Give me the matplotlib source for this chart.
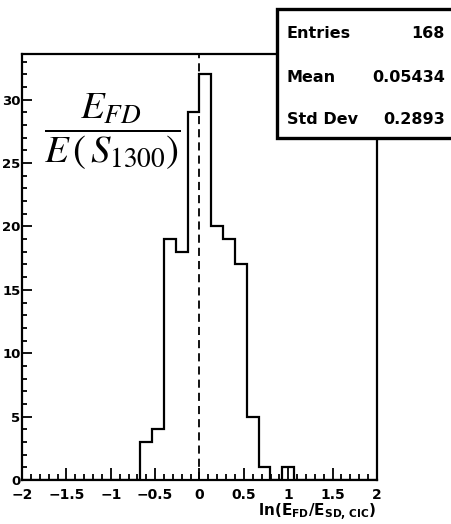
import numpy as np
import matplotlib
matplotlib.use("Agg")
import matplotlib.pyplot as plt
from matplotlib.patches import Rectangle
from matplotlib.ticker import MultipleLocator

plt.rcParams['font.family'] = ['DejaVu Sans']
plt.rcParams['mathtext.fontset'] = 'dejavusans'

# Histogram: 30 bins over [-2, 2]
bin_lo, bin_hi, n_bins = -2.0, 2.0, 30
counts = [0, 0, 0, 0, 0, 0, 0, 0, 0, 0,
          3, 4, 19, 18, 29, 32, 20, 19, 17, 5,
          1, 0, 1, 0, 0, 0, 0, 0, 0, 0]
stat_names = ["Entries", "Mean", "Std Dev"]
stat_values = ["168", "0.05434", "0.2893"]
x_ticks = [-2, -1.5, -1, -0.5, 0, 0.5, 1, 1.5, 2]
x_tick_labels = ["\u22122", "\u22121.5", "\u22121", "\u22120.5", "0", "0.5", "1", "1.5", "2"]
y_ticks = [0, 5, 10, 15, 20, 25, 30]

edges = np.linspace(bin_lo, bin_hi, n_bins + 1)

W, H = 452, 524
fig = plt.figure(figsize=(W / 100, H / 100), dpi=100)
ax = fig.add_axes([22 / W, 1 - 480 / H, (377 - 22) / W, (480 - 54) / H])

ax.stairs(counts, edges, color='black', linewidth=1.6, baseline=0)
ax.axvline(0, color='black', linestyle=(0, (4.5, 2.8)), linewidth=1.3)

ax.set_xlim(bin_lo, bin_hi)
ax.set_ylim(0, 1.05 * max(counts))

ax.set_xticks(x_ticks)
ax.set_xticklabels(x_tick_labels)
ax.set_yticks(y_ticks)
ax.xaxis.set_minor_locator(MultipleLocator(0.1))
ax.yaxis.set_minor_locator(MultipleLocator(1))
ax.tick_params(which='both', direction='in', width=1.3,
               top=False, right=False)
ax.tick_params(axis='x', which='major', length=9, pad=6, labelsize=10)
ax.tick_params(axis='x', which='minor', length=4.5)
ax.tick_params(axis='y', which='major', length=7.5, pad=1, labelsize=9.5)
ax.tick_params(axis='y', which='minor', length=3.8)
for lab in ax.get_xticklabels() + ax.get_yticklabels():
    lab.set_fontweight('bold')
for sp in ax.spines.values():
    sp.set_linewidth(1.6)

ax.text(1.0, -0.052, r"$\mathbf{ln(E_{FD}/E_{SD,\,CIC})}$", transform=ax.transAxes,
        ha='right', va='top', fontsize=11)

# Energy ratio formula
ax.text(0.254, 0.818, r"$\dfrac{E_{FD}}{E\,\left(\,S_{1300}\right)}$",
        transform=ax.transAxes, ha='center', va='center', fontsize=28,
        fontweight='normal', math_fontfamily='stix')

# Statistics box
x0, y0 = 277 / W, 1 - 138 / H
box = Rectangle((x0, y0), 1.05 - x0, (138 - 9) / H, transform=fig.transFigure,
                facecolor='white', edgecolor='black', linewidth=2.4, zorder=5,
                clip_on=False)
fig.patches.append(box)
rows_y = [33, 77, 120]
for name, val, yy in zip(stat_names, stat_values, rows_y):
    fig.text(287 / W, 1 - yy / H, name, ha='left', va='center', fontsize=11.5,
             fontweight='bold', zorder=6)
    fig.text(445 / W, 1 - yy / H, val, ha='right', va='center', fontsize=11.5,
             fontweight='bold', zorder=6)

fig.savefig("out.png", dpi=100)
